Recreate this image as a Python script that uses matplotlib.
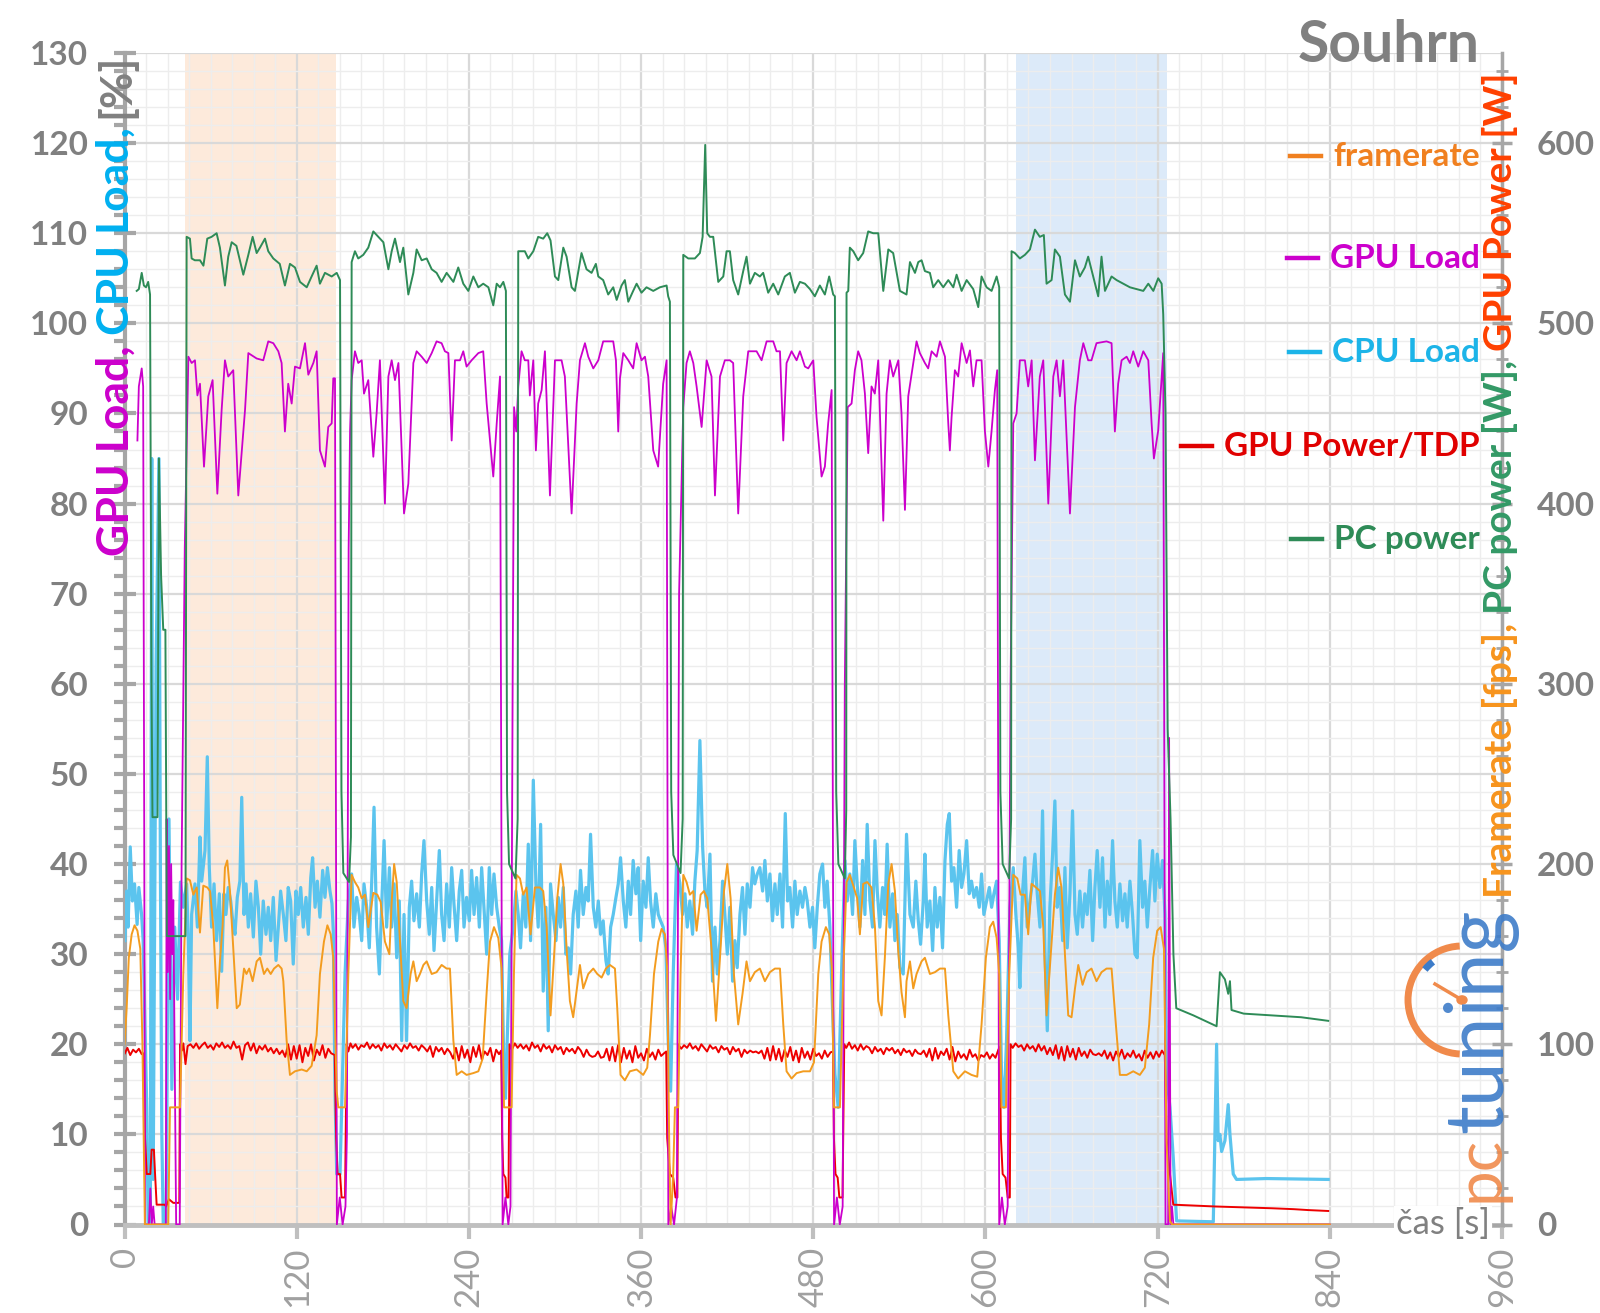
import numpy as np
import matplotlib
matplotlib.use("Agg")
import matplotlib.pyplot as plt
from matplotlib.lines import Line2D
from matplotlib.patches import Arc, Circle

# ---------------- data ----------------
# PC power [W] (right axis)
pc_power = [
    (8.5, 518), (10, 519), (12, 528), (13.5, 521), (15, 520), (16.5, 523), (17.8, 516),
    (18.8, 300), (19.5, 226), (23, 226), (24, 425), (25.5, 360), (27, 330), (28.5, 330),
    (29.5, 160), (42.5, 160),
    (43.3, 548), (45.6, 547), (46.8, 536), (49, 535), (52.6, 535), (55, 532), (57.7, 547),
    (60.7, 548), (64.2, 550), (66.5, 542), (70, 521), (72.3, 537), (74.7, 545), (78, 543),
    (82.8, 527), (86.3, 538), (89.3, 548), (92.1, 539), (94.4, 542), (97.9, 547), (100.2, 540),
    (103.7, 536), (108.2, 533), (111.8, 521), (115.3, 533), (118.8, 531), (122.3, 523),
    (127, 520), (130.4, 526), (133.9, 532), (136.2, 522), (139.7, 528), (144.4, 526),
    (147.9, 528), (150.2, 524), (151.2, 240), (152.5, 195), (156.5, 190), (157.8, 215),
    (158.3, 534), (160.6, 540), (162.9, 536), (166.4, 538), (169.9, 542), (173.4, 551),
    (176.9, 548), (180.4, 545), (183.9, 530), (186.2, 540), (188.5, 547), (192, 534),
    (194.3, 542), (197.8, 516), (201.3, 528), (203.6, 541), (207.1, 535), (210.6, 536),
    (214.1, 530), (217.5, 528), (221, 523), (224.5, 528), (229.2, 523), (232.6, 531),
    (236.1, 522), (239.6, 518), (243.1, 526), (246.6, 520), (250, 522), (253.6, 520),
    (257, 510), (259.4, 522), (261.7, 520), (264, 523), (265.8, 518), (266.6, 240),
    (268, 200), (272.5, 192), (274, 225),
    (274.4, 540), (279, 540), (281.4, 536), (284.9, 540), (288.3, 548), (291.8, 547),
    (294.6, 550), (296.9, 546), (300, 526), (302.3, 524), (305.8, 542), (308.1, 537),
    (311.6, 520), (313.9, 518), (318.5, 539), (322, 530), (325.5, 528), (328.5, 533),
    (330.2, 526), (333.6, 524), (337.1, 516), (340.6, 520), (343, 513), (346.4, 521),
    (348.7, 524), (351.1, 512), (354.5, 518), (356.9, 522), (360.3, 517), (363.8, 520),
    (368.5, 518), (373.1, 520), (377.8, 521), (378.9, 515), (380.1, 512), (381, 240),
    (382.5, 205), (387.5, 195), (389, 225),
    (389.4, 538), (392.9, 536), (397.5, 536), (401, 539), (402.9, 548), (404.7, 599),
    (406.1, 550), (408, 548), (410.3, 548), (413.8, 523), (417.3, 526), (419.6, 540),
    (421.9, 540), (424.2, 524), (427.7, 516), (431.2, 529), (433.5, 537), (435.9, 522),
    (439.3, 528), (442.8, 526), (445.1, 528), (448.6, 517), (452.1, 522), (455.6, 516),
    (460.2, 526), (463.7, 528), (467.2, 517), (470.7, 523), (474.2, 522), (477.7, 519),
    (481.1, 515), (484.6, 521), (488.1, 516), (491.1, 526), (493.9, 516), (495.1, 515),
    (496, 240), (497.5, 200), (502, 192), (503, 230),
    (503.2, 517), (504.4, 518), (505.5, 542), (507.9, 540), (511.3, 535), (514.8, 539),
    (518.3, 551), (521.8, 550), (525.3, 550), (528.8, 518), (532.3, 541), (535.7, 539),
    (540.4, 518), (545, 516), (547.4, 534), (550.9, 528), (553.2, 534), (555.5, 535),
    (557.8, 529), (561.3, 528), (563.6, 520), (567.1, 524), (570.6, 520), (574.1, 524),
    (577.6, 520), (579.9, 527), (583.4, 518), (586.9, 524), (591.5, 519), (595, 509),
    (597.3, 526), (600.8, 520), (604.3, 518), (607.8, 526), (609.6, 520), (610.4, 240),
    (612, 200), (616.5, 192), (617.9, 225),
    (618.2, 540), (620.5, 539), (624, 536), (627.5, 538), (631, 541), (634.5, 552),
    (637.9, 548), (640.7, 549), (642.6, 522), (646.1, 524), (648.4, 541), (651.9, 537),
    (655.4, 516), (658.9, 512), (662.4, 535), (665.8, 526), (669.3, 531), (671.6, 537),
    (675.1, 526), (678.6, 515), (680.9, 537), (683.3, 518), (687.9, 526), (691.4, 524),
    (696, 522), (700.7, 520), (705.3, 519), (710, 518), (713.5, 522), (717, 518),
    (720.4, 525), (722.8, 522), (723.9, 505), (725.5, 450), (727, 275), (729, 225),
    (731, 150), (733, 120), (745, 116), (761.1, 110), (763.4, 140), (766.9, 136),
    (769.2, 128), (770.4, 135), (771.5, 119), (780, 117), (800, 116), (820, 115), (838.9, 113),
]

# GPU Load [%] (left axis)
gpu_load = [
    (9, 87), (10, 93), (12, 95), (13, 93), (13.8, 40), (14.3, 0), (17, 0), (18, 4), (19, 0),
    (20, 2), (21, 0), (28.8, 0), (29.4, 45), (30.2, 28), (31, 42), (31.8, 25), (32.5, 40),
    (33.3, 30), (34, 36), (35, 18), (36, 0), (38.5, 0),
    (39.8, 40), (42, 75), (44.5, 96.3), (46.8, 95.6), (49.1, 95.9), (50.8, 92), (52.6, 93.3),
    (55.4, 84.1), (58.4, 91.9), (61.4, 93.7), (64.7, 81.1), (67.7, 90.4), (70, 95.9),
    (72.3, 94.1), (75.8, 94.8), (79.3, 80.9), (84, 90.4), (86.3, 96.7), (92.1, 96.1),
    (96.7, 95.9), (100.2, 98), (103.7, 97.8), (107.2, 96.9), (109.5, 95.6), (111.8, 88),
    (114.1, 93.3), (116.5, 91.1), (118.8, 95.2), (122.3, 95), (125.8, 97.8), (128.1, 94.3),
    (131.6, 95.6), (133.9, 96.9), (136.2, 85.9), (139.7, 84.1), (142, 88.5), (144.4, 88.9),
    (145.5, 93.9), (146.7, 93.9), (148, 0), (150, 3), (152, 0), (154, 2), (155, 10),
    (156.2, 75), (157.2, 88.1), (158.3, 93.7),
    (160.6, 96.9), (162.9, 95.6), (165.3, 95.9), (166.9, 92.2), (169.9, 93.7), (173.4, 85.2),
    (175.7, 90), (178, 95.9), (181.5, 80), (183.9, 94.1), (186.2, 95.9), (188.5, 93.7),
    (190.9, 95.6), (194.8, 78.9), (197.8, 82.2), (201.3, 95.6), (203.6, 96.9), (207.1, 96.3),
    (210.6, 95.6), (214.1, 96.7), (217.5, 98), (221, 97.8), (223.3, 96.9), (225.7, 96.7),
    (228, 87), (230.3, 95.9), (233.8, 95.9), (236.1, 96.9), (238.4, 95.2), (241.9, 95.9),
    (246.6, 96.7), (250, 96.9), (252.4, 91.1), (254.7, 87), (257, 83), (259.4, 88.9),
    (261.7, 94.1), (263.5, 0), (265.5, 3), (267.5, 0), (269, 2), (270.5, 60), (271.5, 90.7),
    (273, 88), (274.4, 93), (276.7, 96.9), (279, 95.9), (281.4, 95.9), (282.5, 92),
    (284.9, 95.9), (286.7, 85.9), (288.3, 91.1), (290.7, 92.6), (293, 96.9), (296.5, 80.9),
    (300, 95.9), (302.3, 95.9), (304.6, 95.9), (306.9, 94.1), (311.6, 78.9), (315.1, 91.1),
    (317.4, 95.9), (320.9, 97.8), (323.2, 96.3), (326.7, 95), (330.2, 95.9), (333.6, 98),
    (340.6, 98), (342.5, 95.9), (344.1, 88), (345.3, 93.9), (347.6, 96.7), (351.1, 95.9),
    (354.5, 95), (356.9, 97.8), (360.3, 95.9), (362.7, 96.3), (365, 94.1), (368.5, 85.9),
    (371.9, 84.1), (375.4, 93.3), (377.8, 95.9), (379, 0), (381, 2), (383, 0), (385, 3),
    (386.5, 70), (389.4, 90.7), (391.7, 95.6), (394, 96.9), (396.4, 95.6), (398.7, 93),
    (402.2, 88.5), (405.7, 95.9), (409.1, 94.1), (411.5, 80.9), (415, 94.1), (418.4, 95.9),
    (421.9, 95.9), (424.2, 95.6), (427.7, 78.9), (431.2, 91.9), (434.7, 96.9), (440.5, 96.9),
    (444, 95.9), (447.5, 98), (452.1, 98), (454.4, 96.9), (456.8, 96.9), (459.1, 87),
    (461.4, 95.6), (464.9, 96.9), (468.4, 95.9), (470.7, 96.9), (474.2, 95.2), (476.5, 95),
    (480, 95.9), (482.3, 89.6), (485.8, 83), (488.1, 84.1), (490.4, 88.9), (492.8, 92.6),
    (494.5, 0), (496.5, 3), (498.5, 0), (500.5, 2), (502, 60), (504, 90.7), (506.7, 91.1),
    (509, 94.8), (511.3, 96.9), (513.6, 95.9), (516, 92.2), (518.3, 85.6), (520.6, 93),
    (522.9, 92.2), (525.3, 95.9), (528.8, 78.1), (531.1, 92.2), (533.4, 95.9), (535.7, 94.1),
    (539.3, 95.9), (541.5, 90), (543.9, 79.3), (546.2, 91.9), (549.7, 95.6), (552, 98),
    (554.3, 96.7), (557.8, 95.6), (560.1, 95), (562.5, 96.9), (566, 96.3), (568.3, 98),
    (571.8, 96.3), (574.1, 88.9), (575.2, 85.9), (576.4, 89.6), (578.7, 94.8), (581, 94.1),
    (583.4, 97.8), (586.9, 95.6), (589.2, 97), (591.5, 93), (593.8, 95.9), (597.3, 95.9),
    (599.6, 88.1), (602, 84.1), (604.3, 88.1), (606.6, 92.6), (608.2, 94.8), (609.6, 0),
    (611.5, 3), (613.5, 0), (615.5, 2), (617.5, 60), (619.4, 88.9), (621.7, 90), (624, 95.9),
    (627.5, 95.9), (629.8, 93), (632.2, 95.9), (634.5, 84.8), (637.9, 94.1), (640.3, 95.9),
    (643.8, 80), (647.3, 94.1), (649.6, 95.9), (651.9, 91.9), (654.2, 95.9), (658.9, 78.9),
    (662.4, 90.7), (665.8, 95.9), (668.2, 97.8), (671.6, 95.9), (673.9, 95.9), (677.4, 97.8),
    (684.4, 98), (687.9, 97.8), (690.2, 88), (692.5, 93.3), (694.9, 95.9), (698.4, 96.3),
    (700.7, 95.6), (703, 96.9), (706.5, 95.2), (710, 96.9), (713.5, 95.9), (715.8, 88.9),
    (717.4, 85), (720.4, 88.1), (723.9, 96.7), (725.5, 0), (727.3, 0), (728, 54), (729, 0),
    (730, 2), (731, 0), (840, 0),
]

# CPU Load [%] (left axis)
cpu_load = [
    (0.3, 31.5), (1.5, 37), (2.5, 33), (4, 41.9), (5.5, 35.9), (7, 37.8), (8.8, 33.3),
    (10, 37.4), (11.9, 34.4), (13, 31.5), (15.5, 13), (16.5, 0), (18, 0), (19, 85), (20, 5),
    (22, 62), (24, 85), (25, 40), (26, 10), (27, 0), (29, 0), (30, 25), (31, 45), (33, 15),
    (35, 33), (37, 25), (39, 38),
    (41, 35.2), (43.3, 37.8), (44.5, 31.5), (45.6, 20.4), (46.8, 34.4), (49.1, 37.8),
    (50.8, 33), (52.6, 43), (53.8, 38.1), (56.1, 41.5), (57.7, 51.9), (59.1, 39.6), (60.7, 33),
    (62.4, 37.8), (64.2, 31.5), (66.1, 36.7), (67.7, 28.1), (69.3, 36.7), (70.7, 34.4),
    (72.3, 37.4), (74, 35.9), (75.4, 33.7), (77, 32.2), (78.6, 36.3), (80.4, 38.1), (81.7, 47.4),
    (83.3, 34.4), (84.7, 37.8), (86.3, 33), (87.9, 36.7), (89.8, 31.9), (91.6, 38.1),
    (93.3, 35.2), (94.9, 30), (96.7, 35.9), (98.6, 32.2), (100.2, 35.2), (101.9, 31.5),
    (103.7, 36.3), (105.6, 29.3), (107.2, 33), (108.8, 37), (110.7, 34.4), (112.5, 31.5),
    (114.1, 37.4), (115.8, 35.9), (117.6, 28.9), (119.5, 37), (121.1, 34.4), (122.8, 37.4),
    (124.6, 33), (126.5, 36.3), (128.1, 32.2), (129.8, 38.5), (131.1, 40.7), (132.8, 35.2),
    (134.4, 38.1), (136.2, 34.1), (138.1, 39.3), (139.7, 36.3), (141.4, 39.6), (143.2, 37),
    (144.6, 35.6), (145.5, 32.6), (146.7, 14.8), (147.9, 5.6), (150.2, 5.6), (153.7, 27.8),
    (156, 35.9), (158.3, 38.9), (159.9, 33), (161.8, 36.3), (163.6, 34.4), (165.3, 31.5),
    (166.9, 37.8), (168.8, 35.2), (170.6, 30.7), (172.3, 38.1), (173.9, 46.3), (175.7, 33),
    (177.6, 27.8), (179.2, 35.2), (180.9, 42.6), (182.7, 33), (184.6, 39.6), (186.2, 33),
    (187.9, 37.8), (189.7, 29.6), (191.5, 35.9), (193.2, 20.4), (194.8, 34.4), (196.6, 20.4),
    (198.5, 35.2), (200.1, 38.1), (201.7, 33.7), (203.6, 36.7), (205.5, 33), (207.1, 38.9),
    (208.7, 42.6), (210.6, 35.9), (212.4, 32.2), (214.1, 37.4), (215.7, 30.4), (217.5, 35.9),
    (219.4, 41.5), (221, 34.4), (222.7, 31.5), (224.5, 37.8), (226.4, 33), (228, 39.6),
    (229.6, 35.6), (231.5, 31.5), (233.3, 37), (235, 39.3), (236.6, 33), (238.4, 36.3),
    (240.3, 33.7), (241.9, 39.3), (243.6, 34.4), (245.4, 38.5), (247.3, 33), (248.9, 39.6),
    (250.5, 35.2), (252.4, 30), (254.2, 39.6), (255.9, 34.4), (257.5, 38.9), (259.4, 35.2),
    (261.2, 33), (262.8, 31.5), (264.3, 18), (265.5, 14), (267, 22), (268.5, 30),
    (270.9, 33), (272.8, 37), (274.4, 34.4), (276, 30.7), (277.9, 36.7), (279.7, 33),
    (281.4, 42.2), (283, 31.5), (284.9, 49.3), (286.7, 37.8), (288.3, 33), (290, 44.4),
    (291.8, 25.9), (293.7, 35.2), (295.3, 21.5), (296.9, 37.8), (298.8, 34.4), (300.7, 31.5),
    (302.3, 36.3), (303.9, 33), (305.8, 37.4), (307.6, 30), (309.3, 30.7), (310.9, 27.8),
    (312.7, 34.4), (314.6, 37), (316.2, 33), (317.8, 39.3), (319.7, 34.4), (321.6, 37.4),
    (323.2, 35.9), (324.8, 43.3), (326.7, 35.2), (328.5, 33), (330.2, 35.9), (331.8, 32.2),
    (333.6, 33.7), (335.5, 29.3), (337.1, 27.8), (338.8, 33), (340.6, 34.4), (342.5, 36.3),
    (344.1, 37.8), (345.7, 40.7), (347.6, 35.9), (349.4, 33), (351.1, 38.1), (352.7, 34.4),
    (354.5, 40.4), (356.4, 36.7), (358, 39.6), (359.7, 31.5), (361.5, 38.1), (363.4, 35.2),
    (365, 40.7), (366.6, 35.9), (368.5, 33), (370.3, 36.7), (372, 34.4), (373.6, 33.7),
    (375.4, 33), (377.3, 30.7), (378.9, 20.4), (380.6, 14.8), (382.4, 27.8), (384.7, 40),
    (387.1, 37.8), (388.9, 34.4), (390.6, 36.7), (392.2, 33), (394, 35.9), (395.9, 32.2),
    (397.5, 38.1), (399.1, 41.5), (401, 53.7), (402.9, 41.9), (404.5, 37), (406.1, 35.2),
    (408, 41.1), (409.8, 27), (411.5, 33), (413.1, 27.8), (415, 31.5), (416.8, 38.1),
    (418.4, 34.4), (420.1, 30), (421.9, 35.2), (423.8, 27), (425.4, 31.5), (427, 28.5),
    (428.9, 34.4), (430.7, 37.4), (432.4, 32.2), (434, 37.8), (435.9, 35.2), (437.7, 39.6),
    (439.3, 37.8), (441, 38.9), (442.8, 39.6), (444.7, 37), (446.3, 40.4), (448, 35.9),
    (449.8, 38.9), (451.6, 33.7), (453.3, 37.8), (454.9, 34.4), (456.8, 38.9), (458.6, 33),
    (460.5, 45.6), (462.1, 35.9), (463.7, 37.4), (465.6, 33), (467.2, 38.1), (468.8, 34.4),
    (470.7, 37), (472.5, 35.2), (474.2, 37.4), (475.8, 35.9), (477.7, 33), (479.5, 35.2),
    (481.1, 30.7), (482.8, 35.2), (484.6, 38.9), (486.5, 40), (488.1, 35.2), (489.7, 38.1),
    (491.6, 33), (493.4, 24.1), (495.1, 16.7), (497.4, 13), (499.7, 27.8), (502.1, 40.4),
    (503.7, 35.9), (505.5, 38.9), (507.4, 34.4), (509, 42.6), (510.6, 37.8), (512.5, 33),
    (514.4, 40.4), (516, 34.4), (517.6, 44.4), (519.5, 35.9), (521.3, 33), (523, 42.6),
    (524.6, 37), (526.4, 33), (528.3, 37.4), (529.9, 34.4), (531.5, 42.2), (533.4, 33),
    (535.3, 36.7), (536.9, 31.5), (538.5, 34.4), (540.4, 28.5), (542.7, 27.8), (545, 43.3),
    (547.4, 34.4), (549.7, 33), (551.5, 38.1), (553.2, 33.7), (554.8, 31.1), (556.7, 35.9),
    (557.8, 41.1), (559.4, 33), (561.3, 35.9), (563.2, 30.4), (564.8, 37.4), (566.4, 33),
    (568.3, 36.3), (570.1, 30.7), (571.8, 40.4), (573.4, 44.4), (574.8, 45.6), (576.4, 38.1),
    (578, 39.6), (579.9, 35.2), (581.7, 41.5), (583.4, 37.4), (585, 38.9), (586.9, 42.6),
    (588.7, 36.7), (590.3, 38.1), (592, 36.3), (593.8, 37.4), (595.7, 35.2), (597.3, 38.9),
    (598.9, 34.4), (600.8, 35.9), (602.7, 37.4), (604.3, 35.2), (605.9, 36.7), (607.8, 38.1),
    (609.6, 31.5), (611.2, 16.7), (612.9, 13), (614.7, 20.4), (617.1, 35.2), (619.4, 39.6),
    (621.2, 34.4), (622.9, 30.7), (624, 26.3), (625.9, 37), (627.5, 40.7), (629.1, 33),
    (631, 35.9), (632.9, 38.1), (634.5, 41.1), (636.1, 36.7), (638, 33), (639.8, 45.9),
    (641.4, 30.7), (643.1, 21.5), (644.9, 35.2), (646.8, 41.1), (648.4, 47), (650, 35.2),
    (651.9, 37.4), (653.8, 31.5), (655.4, 39.6), (657, 30.7), (658.9, 36.7), (660.7, 45.9),
    (662.4, 34.4), (664, 32.2), (665.8, 37), (667.7, 33), (669.3, 36.7), (670.9, 34.4),
    (672.8, 39.3), (674.7, 31.5), (676.3, 37.4), (677.9, 41.5), (679.8, 35.2), (681.6, 40.7),
    (683.3, 33), (684.9, 38.1), (686.7, 34.4), (688.6, 42.6), (690.2, 35.9), (691.9, 33),
    (693.7, 37.8), (695.6, 33.7), (697.2, 36.7), (698.8, 33), (700.7, 38.1), (702.5, 34.4),
    (704.2, 30), (705.8, 29.6), (707.6, 42.6), (709.5, 35.2), (711.1, 38.1), (712.8, 33),
    (714.6, 37.4), (716.5, 41.5), (718.1, 35.9), (719.7, 41.1), (721.6, 37.4), (723.4, 40.4),
    (725.1, 34.4), (726.2, 16.7), (728.6, 13), (730.9, 7.4), (733.2, 0.4), (758.8, 0.3),
    (761.1, 20), (762.2, 9.3), (763.4, 10), (764.6, 8.1), (766.9, 9.3), (769.2, 13.3),
    (770.4, 10), (772.7, 5.6), (775, 5), (795.9, 5.1), (838.9, 5),
]

# GPU Power/TDP [%] (left axis)
gpu_power = [
    (0.3, 19.0), (2, 19.6), (4, 18.8), (6, 19.4), (8, 19.1), (10, 19.5), (12, 18.9),
    (13.5, 19.0), (14.3, 9.6), (15.5, 5.6), (18, 5.6), (18.9, 8.3), (20.5, 8.3), (21.3, 5.6),
    (22.4, 2.2), (28, 2.2), (29, 2.0), (31, 2.8), (34, 2.4), (38.2, 2.4),
    (38.7, 20.0), (40, 19.3), (41, 20.1), (42.5, 17.8), (44, 19.8), (46, 20.0), (48, 19.6),
    (50, 20.1), (52, 19.5), (54, 19.9), (56, 20.2), (58, 19.6), (60, 19.9), (62, 19.4),
    (64, 20.1), (66, 19.7), (68, 20.2), (70, 19.6), (72, 19.9), (74, 19.5), (76, 20.3),
    (78, 19.6), (80, 19.8), (82, 18.3), (84, 19.9), (86, 20.2), (88, 19.3), (90, 20.1),
    (92, 19.0), (94, 19.8), (96, 19.4), (98, 19.9), (100, 19.2), (102, 19.6), (104, 19.0),
    (106, 19.5), (108, 18.9), (110, 19.3), (112, 18.6), (114, 20.0), (116, 18.3), (118, 19.8),
    (120, 18.4), (122, 19.9), (124, 18.0), (126, 19.6), (128, 18.7), (130, 20.0), (132, 18.2),
    (134, 19.4), (136, 18.8), (138, 19.9), (140, 18.5), (142, 19.5), (144, 19.0),
    (146.5, 18.8), (147.5, 9.6), (148.5, 5.6), (150.2, 5.6), (151.3, 3.0), (153.7, 3.0),
    (154.8, 20.0), (156, 19.2), (157.5, 20.1), (159, 19.6), (161, 20.0), (163, 19.4),
    (165, 19.9), (167, 19.7), (169, 20.2), (171, 19.5), (173, 20.0), (175, 19.6), (177, 19.9),
    (179, 19.3), (181, 20.1), (183, 19.6), (185, 19.9), (187, 19.4), (189, 20.0), (191, 19.6),
    (193, 19.2), (195, 19.9), (197, 19.5), (199, 20.1), (201, 19.6), (203, 19.8), (205, 19.3),
    (207, 19.9), (209, 19.6), (211, 19.2), (213, 19.8), (215, 18.6), (217, 19.7), (219, 19.2),
    (221, 19.6), (223, 18.9), (225, 19.5), (227, 19.1), (229, 18.4), (231, 19.6), (233, 18.2),
    (235, 19.8), (237, 18.5), (239, 19.4), (241, 18.0), (243, 19.7), (245, 18.6), (247, 19.9),
    (249, 18.3), (251, 19.2), (253, 18.8), (255, 19.6), (257, 18.1), (259, 19.4), (261, 18.9),
    (262.5, 19.3), (263.2, 9.6), (264, 5.6), (265.5, 5.2), (266.3, 3.0), (267.6, 3.0),
    (268.3, 20.0), (270, 19.4), (272, 20.1), (274, 19.6), (276, 20.0), (278, 19.5), (280, 19.9),
    (282, 19.3), (284, 20.2), (286, 19.6), (288, 19.9), (290, 19.2), (292, 20.0), (294, 19.5),
    (296, 19.8), (298, 19.1), (300, 19.9), (302, 19.4), (304, 19.7), (306, 18.9), (308, 19.6),
    (310, 19.2), (312, 19.5), (314, 19.0), (316, 19.7), (318, 19.3), (320, 18.6), (322, 19.4),
    (324, 18.8), (326, 18.6), (328, 18.7), (330, 19.2), (332, 18.5), (334, 18.6), (336, 19.5),
    (338, 18.2), (340, 19.7), (342, 18.1), (344, 19.9), (346, 18.0), (348, 19.6), (350, 18.4),
    (352, 19.3), (354, 18.0), (356, 19.8), (358, 18.5), (360, 19.0), (362, 18.2), (364, 19.5),
    (366, 18.6), (368, 19.1), (370, 18.3), (372, 19.4), (374, 18.7), (376, 19.0),
    (377.5, 19.2), (378.2, 9.6), (380.1, 5.6), (382.4, 5.2), (384, 3.0), (385.3, 3.0),
    (385.9, 20.0), (388, 19.5), (390, 19.9), (392, 19.6), (394, 20.1), (396, 19.5), (398, 19.8),
    (400, 19.3), (402, 20.0), (404, 19.6), (406, 19.2), (408, 19.9), (410, 19.5), (412, 19.7),
    (414, 19.1), (416, 19.8), (418, 19.4), (420, 19.6), (422, 18.9), (424, 19.7), (426, 19.2),
    (428, 19.5), (430, 18.6), (432, 19.4), (434, 19.0), (436, 19.3), (438, 19.1), (440, 19.2),
    (442, 19.0), (444, 19.3), (446, 18.4), (448, 19.6), (450, 18.2), (452, 19.8), (454, 18.3),
    (456, 19.5), (458, 18.1), (460, 19.4), (462, 18.6), (464, 19.7), (466, 18.2), (468, 19.3),
    (470, 18.0), (472, 19.6), (474, 18.5), (476, 19.2), (478, 18.3), (480, 19.5), (482, 18.7),
    (484, 19.0), (486, 18.4), (488, 19.3), (490, 18.6), (492, 19.1), (493.8, 19.2),
    (494.4, 9.6), (495.5, 5.6), (497, 5.2), (498.2, 3.0), (500.4, 3.0), (501.6, 20.0),
    (503, 19.6), (505, 20.2), (507, 19.5), (509, 19.9), (511, 19.3), (513, 20.0), (515, 19.4),
    (517, 19.8), (519, 19.6), (521, 19.0), (523, 19.7), (525, 19.2), (527, 19.5), (529, 18.9),
    (531, 19.6), (533, 19.3), (535, 19.6), (537, 19.0), (539, 19.4), (541, 18.8), (543, 19.5),
    (545, 19.1), (547, 19.3), (549, 18.7), (551, 19.4), (553, 19.0), (555, 18.9), (557, 19.3),
    (559, 18.6), (561, 19.5), (563, 18.2), (565, 19.6), (567, 18.4), (569, 19.2), (571, 18.8),
    (573, 19.5), (575, 18.3), (577, 19.7), (579, 18.1), (581, 19.2), (583, 18.5), (585, 18.9),
    (587, 18.3), (589, 19.4), (591, 18.6), (593, 18.9), (595, 18.2), (597, 18.8), (599, 18.6),
    (601, 19.1), (603, 18.4), (605, 18.9), (607, 18.5), (609, 19.4), (610, 19.7),
    (610.8, 9.6), (612, 5.6), (614, 5.2), (615.5, 3.0), (617, 3.0), (617.5, 20.0),
    (619, 19.6), (621, 20.1), (623, 19.7), (625, 19.9), (627, 19.3), (629, 20.0), (631, 19.5),
    (633, 19.8), (635, 19.2), (637, 20.0), (639, 19.3), (641, 19.8), (643, 18.9), (645, 19.6),
    (647, 18.8), (649, 19.9), (651, 18.4), (653, 19.7), (655, 18.2), (657, 19.8), (659, 18.6),
    (661, 19.5), (663, 18.3), (665, 19.6), (667, 18.7), (669, 19.2), (671, 18.5), (673, 19.4),
    (675, 18.9), (677, 18.8), (679, 19.0), (681, 18.7), (683, 19.3), (685, 18.4), (687, 19.1),
    (689, 18.2), (691, 19.2), (693, 18.6), (695, 19.4), (697, 18.4), (699, 19.0), (701, 18.6),
    (703, 19.3), (705, 18.5), (707, 18.9), (709, 18.2), (711, 19.3), (713, 18.5), (715, 19.1),
    (717, 18.4), (719, 19.2), (721, 18.6), (723, 19.3), (725, 18.8), (726.2, 9.6),
    (728.6, 5.6), (730.9, 2.2), (745, 2.1), (760, 2.0), (780, 1.9), (800, 1.8), (815, 1.7),
    (825, 1.6), (838.9, 1.5),
]

# framerate [fps] (right axis)
framerate = [
    (0, 100), (1.5, 120), (3, 148), (5, 161), (7, 166), (9, 163), (11, 153), (12.5, 100),
    (13.5, 40), (14.2, 0), (30.5, 0), (31.7, 65), (38.7, 65),
    (41, 139), (43.3, 192), (45.6, 191), (48, 183), (50.3, 187), (52.6, 162), (54.9, 188),
    (57.7, 187), (59.6, 185), (61.9, 165), (64.7, 120), (66.5, 146), (68.4, 166), (70, 198),
    (71.6, 202), (73.5, 185), (75.8, 153), (78.2, 120), (80.4, 122), (83.3, 142), (85, 139),
    (86.9, 142), (89.3, 135), (92.1, 146), (94.4, 148), (97.2, 139), (99.5, 142), (101.9, 139),
    (104.2, 142), (107.2, 144), (109.5, 142), (110.7, 135), (113, 102), (115.3, 83), (118.8, 85),
    (123.5, 86), (127, 85), (130.4, 88), (133.9, 105), (136.2, 139), (139, 157), (141.4, 166),
    (143.7, 161), (145.5, 148), (147.9, 74), (149, 65), (153.7, 65), (156, 139), (158.3, 194),
    (160.6, 190), (162.9, 187), (165.3, 181), (167.6, 183), (169.9, 165), (173.4, 184),
    (176.2, 183), (178.5, 179), (181.5, 157), (184.6, 150), (186.2, 179), (187.9, 200),
    (189.7, 190), (192, 157), (194.3, 124), (196.6, 120), (199.4, 139), (201.3, 146),
    (203.6, 135), (205.9, 139), (208.3, 144), (210.6, 146), (214.1, 139), (217.5, 140),
    (221, 144), (224.5, 142), (226.8, 142), (229.2, 102), (231.5, 83), (235, 85), (238.4, 83),
    (243.1, 84), (246.6, 85), (249.6, 92), (252.4, 129), (254.7, 157), (257.5, 165),
    (260.5, 159), (262.8, 142), (264.5, 65), (269.8, 65), (271.4, 139), (273.2, 194),
    (275.6, 192), (277.9, 183), (280.2, 187), (283, 161), (286, 187), (289.5, 187), (291.8, 185),
    (294.2, 165), (296.9, 116), (299.3, 148), (301.6, 181), (303.9, 200), (305.8, 189),
    (308.1, 153), (310.4, 124), (312.7, 115), (315, 129), (317.4, 144), (319.7, 131),
    (323.2, 139), (326.7, 142), (329.5, 139), (332.5, 137), (335.5, 142), (338.3, 144),
    (341.8, 142), (343.4, 120), (345.7, 83), (348.7, 80), (352.2, 85), (356.9, 86), (361.5, 83),
    (364.3, 87), (366.2, 105), (369, 139), (372, 157), (374.3, 164), (376.6, 161), (378.2, 142),
    (379.6, 46), (380.6, 0), (382.4, 28), (383.6, 65), (385.9, 65), (387.5, 139), (389.4, 194),
    (391.7, 190), (394, 183), (396.4, 185), (398.7, 163), (401.5, 183), (403.8, 185),
    (406.1, 181), (409.1, 153), (412.2, 113), (415, 148), (417.8, 185), (420.1, 200),
    (422.4, 181), (424.7, 139), (427.7, 111), (430.7, 128), (433.5, 146), (435.9, 135),
    (439.3, 140), (442.8, 142), (446.3, 135), (449.8, 140), (453.3, 142), (456.8, 142),
    (459.1, 111), (461.4, 85), (464.9, 81), (468.4, 84), (473, 85), (477.7, 85), (480.5, 90),
    (483.5, 139), (485.8, 157), (488.8, 165), (491.1, 161), (493, 142), (494.4, 65),
    (498.6, 65), (500.9, 139), (503.2, 190), (505.5, 194), (508.3, 187), (510.6, 181),
    (512.5, 161), (514.8, 189), (517.6, 190), (520.6, 187), (523, 165), (525.3, 124),
    (527.6, 116), (529.9, 148), (532.3, 189), (534.6, 200), (536.9, 185), (539.2, 152),
    (541.5, 129), (543.9, 115), (545, 135), (547.4, 146), (549.7, 131), (552, 139),
    (555.5, 146), (557.8, 148), (561.3, 139), (564.8, 140), (568.3, 142), (571.8, 142),
    (574.1, 116), (577.6, 85), (581, 81), (585.7, 85), (590.3, 83), (594.3, 82), (597.3, 111),
    (600.3, 148), (603.1, 165), (605.4, 168), (607.8, 159), (609.6, 139), (611.2, 65),
    (614.3, 65), (616.6, 139), (619.4, 194), (622.2, 192), (624.5, 183), (627.5, 183),
    (629.8, 161), (632.2, 189), (635.2, 187), (638, 185), (640.3, 165), (642.6, 116),
    (645.4, 148), (648.4, 183), (650.7, 198), (653, 187), (655.4, 150), (657.7, 116),
    (660, 115), (662.4, 131), (664.7, 144), (667.7, 133), (670.5, 140), (673.9, 142),
    (677.4, 135), (680.9, 140), (684.4, 142), (687.9, 142), (690.9, 111), (693.7, 83),
    (698.4, 83), (703, 85), (707.6, 83), (711.1, 87), (714.1, 111), (716.9, 148), (719.7, 163),
    (722.1, 165), (724.4, 153), (726.2, 46), (728.6, 2), (730, 0), (840, 0),
]

# shaded highlight intervals [s]
orange_span = (42.5, 147.5)
blue_span = (621.2, 726.2)

x_ticks = [0, 120, 240, 360, 480, 600, 720, 840, 960]
left_ticks = [0, 10, 20, 30, 40, 50, 60, 70, 80, 90, 100, 110, 120, 130]
right_ticks = [0, 100, 200, 300, 400, 500, 600]

legend_entries = ["framerate", "GPU Load", "CPU Load", "GPU Power/TDP", "PC power"]

# ---------------- styling ----------------
C_FPS = "#F39C1F"
C_FPS_TXT = "#F08020"
C_GPU = "#CC00CC"
C_CPU = "#5BC4EE"
C_CPU_TXT = "#1CB4E8"
C_PWR = "#EE0000"
C_PWR_TXT = "#E00000"
C_PC = "#2E8B57"
C_GRAY = "#808080"

FONT = "Lato"
plt.rcParams["font.family"] = [FONT, "DejaVu Sans"]

W, H = 1600, 1313
fig = plt.figure(figsize=(W / 100, H / 100), dpi=100)
ax = fig.add_axes([124.5 / W, (H - 1224.5) / H, (1502 - 124.5) / W, (1224.5 - 53) / H])
ax2 = ax.twinx()


def unzip(pts):
    a = np.array(pts, dtype=float)
    return a[:, 0], a[:, 1]


ax.set_xlim(0, 960)
ax.set_ylim(0, 130)
ax2.set_ylim(0, 650)

# shaded regions
ax.axvspan(*orange_span, color="#FDEADB", zorder=0.5, lw=0)
ax.axvspan(*blue_span, color="#DCEAF9", zorder=0.5, lw=0)

# grid
ax.set_xticks(x_ticks)
ax.set_xticks(np.arange(0, 961, 15), minor=True)
ax.set_yticks(left_ticks)
ax.set_yticks(np.arange(0, 131, 2), minor=True)
ax.grid(which="minor", color="#EDEDED", lw=1.0, zorder=0.6)
ax.grid(which="major", color="#D9D9D9", lw=1.6, zorder=0.7)
ax.set_axisbelow(True)

# series
tx, vy = unzip(cpu_load)
ax.plot(tx, vy, color=C_CPU, lw=2.3, zorder=3)
tx, vy = unzip(gpu_power)
ax.plot(tx, vy, color=C_PWR, lw=1.4, zorder=4)
tx, vy = unzip(gpu_load)
ax.plot(tx, vy, color=C_GPU, lw=1.3, zorder=5)
tx, vy = unzip(framerate)
ax2.plot(tx, vy, color=C_FPS, lw=1.4, zorder=3)
tx, vy = unzip(pc_power)
ax2.plot(tx, vy, color=C_PC, lw=1.4, zorder=4)

# spines
for s in ["top"]:
    ax.spines[s].set_visible(False)
    ax2.spines[s].set_visible(False)
ax2.spines["left"].set_visible(False)
ax2.spines["bottom"].set_visible(False)
ax.spines["right"].set_visible(False)
ax.spines["left"].set_color("#A6A6A6")
ax.spines["left"].set_linewidth(3)
ax.spines["bottom"].set_color("#BFBFBF")
ax.spines["bottom"].set_linewidth(3.5)
ax2.spines["right"].set_color("#A6A6A6")
ax2.spines["right"].set_linewidth(2.5)

# ticks
ax.tick_params(axis="y", which="major", direction="inout", length=16, width=3,
               color="#A6A6A6", labelsize=24, labelcolor=C_GRAY, pad=18)
ax.tick_params(axis="y", which="minor", direction="out", length=8, width=3, color="#A6A6A6")
for lbl in ax.get_yticklabels():
    lbl.set_fontweight("bold")
ax.tick_params(axis="x", which="major", direction="out", length=10, width=3,
               color="#BFBFBF", labelsize=25, labelcolor="#A0A0A0", pad=6, labelrotation=90)
ax.tick_params(axis="x", which="minor", length=0)
ax2.set_yticks(right_ticks)
ax2.set_yticks(np.arange(0, 651, 20), minor=True)
ax2.tick_params(axis="y", which="major", direction="inout", length=14, width=2.5,
                color="#A6A6A6", labelsize=24, labelcolor=C_GRAY, pad=18)
ax2.tick_params(axis="y", which="minor", direction="inout", length=8, width=2, color="#A6A6A6")
for lbl in ax2.get_yticklabels():
    lbl.set_fontweight("bold")

fig.canvas.draw()
renderer = fig.canvas.get_renderer()


def vertical_multicolor(x_px, y_bottom_px, pieces, size, gap):
    y = y_bottom_px
    for s, c in pieces:
        t = fig.text(x_px / W, y / H, s, color=c, rotation=90, rotation_mode="anchor",
                     ha="left", va="center", fontsize=size, fontweight="bold", zorder=10)
        bb = t.get_window_extent(renderer)
        y += bb.height + gap


# left axis label
vertical_multicolor(116, H - 556, [("GPU Load,", C_GPU), ("CPU Load,", "#00B0F0"),
                                   ("[%]", C_GRAY)], 32, 10)
# right axis label
vertical_multicolor(1500, H - 898, [("Framerate [fps],", "#F7941D"), ("PC power [W],", "#339966"),
                                    ("GPU Power [W]", "#FF4000")], 28, 9)

# title
fig.text(1480 / W, (H - 46) / H, "Souhrn", ha="right", va="center", fontsize=41,
         fontweight="bold", color=C_GRAY)

# x axis title
fig.text(1490 / W, (H - 1224) / H, "čas [s]", ha="right", va="center", fontsize=25,
         color=C_GRAY, bbox=dict(boxstyle="square,pad=0.05", fc="white", ec="none"), zorder=10)

# legend (drawn manually to match placement)
leg_colors = [(C_FPS_TXT, C_FPS_TXT), (C_GPU, C_GPU), (C_CPU_TXT, C_CPU_TXT),
              (C_PWR_TXT, C_PWR_TXT), (C_PC, C_PC)]
leg_y = [156, 258, 352, 446, 539]
for name, (tc, lc), yy in zip(legend_entries, leg_colors, leg_y):
    t = fig.text(1480 / W, (H - yy) / H, name, ha="right", va="center", fontsize=24,
                 fontweight="bold", color=tc, zorder=10)
    bb = t.get_window_extent(renderer)
    x1 = bb.x0 - 12
    fig.add_artist(Line2D([(x1 - 31) / W, x1 / W], [(H - yy) / H] * 2, color=lc, lw=3.2,
                          transform=fig.transFigure, zorder=10))

# pctuning logo
t1 = fig.text(1480 / W, 111 / H, "pc", rotation=90, rotation_mode="anchor", ha="left",
              va="center", fontsize=46, fontweight="normal", color="#F08A4B", alpha=0.9, zorder=9)
bb = t1.get_window_extent(renderer)
fig.text(1480 / W, (111 + bb.height + 3) / H, "tuning", rotation=90, rotation_mode="anchor",
         ha="left", va="center", fontsize=58, fontweight="normal", color="#3D7CC9", alpha=0.9,
         zorder=9)
cx, cy, r = 1462, H - 1000, 54
fig.add_artist(Arc((cx / W, cy / H), 2 * r / W, 2 * r / H, theta1=92, theta2=268,
                   color="#F08A4B", lw=5, transform=fig.transFigure, zorder=9))
fig.add_artist(Arc((cx / W, cy / H), 2 * (r - 6) / W, 2 * (r - 6) / H, theta1=122, theta2=135,
                   color="#3D7CC9", lw=5, transform=fig.transFigure, zorder=9))
fig.add_artist(Line2D([cx / W, (cx - 27) / W], [cy / H, (cy + 16) / H], color="#F08A4B", lw=2.5,
                      transform=fig.transFigure, zorder=9))
fig.add_artist(Circle((cx / W, cy / H), 5 / W, color="#F08A4B", transform=fig.transFigure,
                      zorder=9))

fig.savefig("out.png", dpi=100)
